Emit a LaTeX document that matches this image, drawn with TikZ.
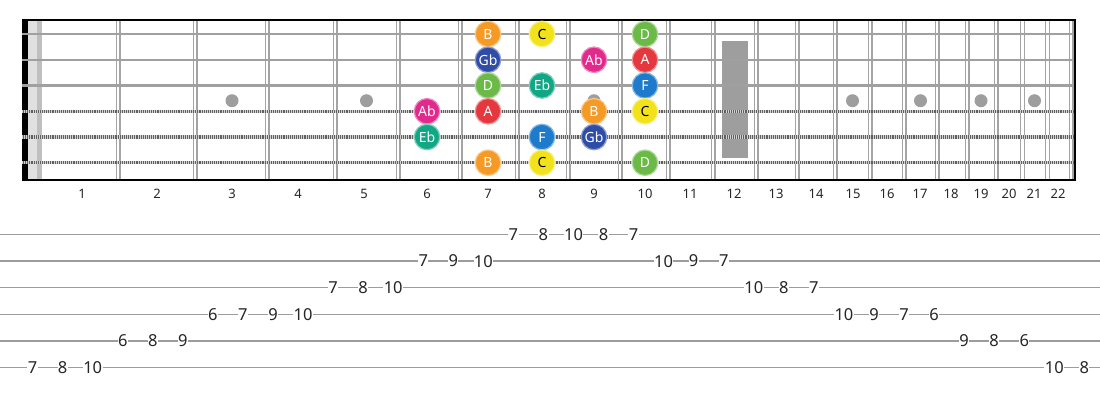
\documentclass[tikz,border=0pt]{standalone}
\usepackage{fontspec}
\setmainfont{Noto Sans}
\definecolor{nB}{HTML}{F59A25}
\definecolor{nC}{HTML}{F2E21C}
\definecolor{nD}{HTML}{6BBA48}
\definecolor{nGb}{HTML}{2F4DA6}
\definecolor{nAb}{HTML}{E02A8C}
\definecolor{nA}{HTML}{E5383E}
\definecolor{nEb}{HTML}{12A784}
\definecolor{nF}{HTML}{1E7BCB}
\definecolor{fretgray}{HTML}{A4A4A4}
\definecolor{dotgray}{HTML}{9E9E9E}
\definecolor{strgray}{HTML}{A0A0A0}
\definecolor{tabgray}{HTML}{9C9C9C}
\begin{document}
\begin{tikzpicture}[x=1pt,y=-1pt,
  fretline/.style={draw=fretgray,line width=1.4pt},
  plainstring/.style={draw=strgray,line width=2.2pt},
  woundbase/.style={draw=gray!75!black,line width=3.4pt},
  woundtop/.style={draw=white!65!gray,line width=3.4pt,dash pattern=on 1pt off 1.1pt},
  inlay/.style={fill=dotgray},
  note/.style={circle,minimum size=25.5pt,inner sep=0pt,line width=1.2pt,font=\fontsize{14}{14}\selectfont},
  noteB/.style={fill=nB,draw=nB!55!white,text=white},
  noteC/.style={fill=nC,draw=nC!55!white,text=black},
  noteD/.style={fill=nD,draw=nD!55!white,text=white},
  noteGb/.style={fill=nGb,draw=nGb!55!white,text=white},
  noteAb/.style={fill=nAb,draw=nAb!55!white,text=white},
  noteA/.style={fill=nA,draw=nA!55!white,text=white},
  noteEb/.style={fill=nEb,draw=nEb!55!white,text=white},
  noteF/.style={fill=nF,draw=nF!55!white,text=white},
  fretnum/.style={inner sep=0pt,font=\fontsize{13}{13}\selectfont,text=black!85},
  tabline/.style={draw=tabgray,line width=1.4pt},
  tabnum/.style={fill=white,inner sep=0.4pt,font=\fontsize{16.5}{16.5}\selectfont,text=black!85}
]
\useasboundingbox (0,0) rectangle (1100,400);
\fill[white] (0,0) rectangle (1100,400);
% nut and headstock band
\fill[black] (22.3,20) rectangle (27.8,180.5);
\fill[black!12] (27.8,20) rectangle (42,180);
\fill[black!25] (37,20) rectangle (42,180);
% frets
\foreach \x in {118,195,267,335,398,460,517,568,620,668,713,756,797,835,870,904,937,967,996,1022.5,1047.5,1071}{
  \draw[fretline] (\x-1.8,20) -- (\x-1.8,180);
  \draw[fretline] (\x+1.8,20) -- (\x+1.8,180);
}
% inlays
\foreach \x in {232,366.5,594,852.5,920.5,981,1034.5}{
  \fill[inlay] (\x,100.7) circle (6.5);
}
\fill[inlay] (722,40.7) rectangle (748,157.7);
% strings
\foreach \y in {34,59.75,85.5}{
  \draw[plainstring] (22,\y) -- (1075,\y);
}
\foreach \y in {111.25,137,162.75}{
  \draw[woundbase] (22,\y) -- (1075,\y);
  \draw[woundtop] (22,\y) -- (1075,\y);
}
% border
\draw[black,line width=1.6pt] (22.3,20) -- (1075,20) -- (1075,180) -- (22.3,180);
% notes
\foreach \nm/\x/\y/\lab in {
  a1/488/34/B, a2/542/34/C, a3/645/34/D,
  b1/488/59.75/Gb, b2/594/59.75/Ab, b3/645/59.75/A,
  c1/488/85.5/D, c2/542/85.5/Eb, c3/645/85.5/F,
  d1/427/111.25/Ab, d2/488/111.25/A, d3/594/111.25/B, d4/645/111.25/C,
  e1/427/137/Eb, e2/542/137/F, e3/594/137/Gb,
  f1/488/162.75/B, f2/542/162.75/C, f3/645/162.75/D}{
  \node[note,note\lab] (\nm) at (\x,\y) {\lab};
}
% fret numbers
\foreach \n/\x in {1/82,2/157,3/232,4/298,5/364,6/427,7/488,8/542,9/594,10/645,11/690,12/734,13/776,14/816,15/853,16/887,17/920,18/951,19/981,20/1009,21/1034,22/1058}{
  \node[fretnum] (fn\n) at (\x,193.5) {\n};
}
% tab lines
\foreach \k in {0,...,5}{
  \draw[tabline] (0,234.5+26.6*\k) -- (1100,234.5+26.6*\k);
}
% tab numbers
\foreach \i/\l/\t in {0/6/7,1/6/8,2/6/10,3/5/6,4/5/8,5/5/9,6/4/6,7/4/7,8/4/9,9/4/10,
  10/3/7,11/3/8,12/3/10,13/2/7,14/2/9,15/2/10,16/1/7,17/1/8,18/1/10,19/1/8,20/1/7,
  21/2/10,22/2/9,23/2/7,24/3/10,25/3/8,26/3/7,27/4/10,28/4/9,29/4/7,30/4/6,
  31/5/9,32/5/8,33/5/6,34/6/10,35/6/8}{
  \node[tabnum] (t\i) at (32.6+30.05*\i,234.5+26.6*\l-26.6) {\t};
}
\end{tikzpicture}
\end{document}
